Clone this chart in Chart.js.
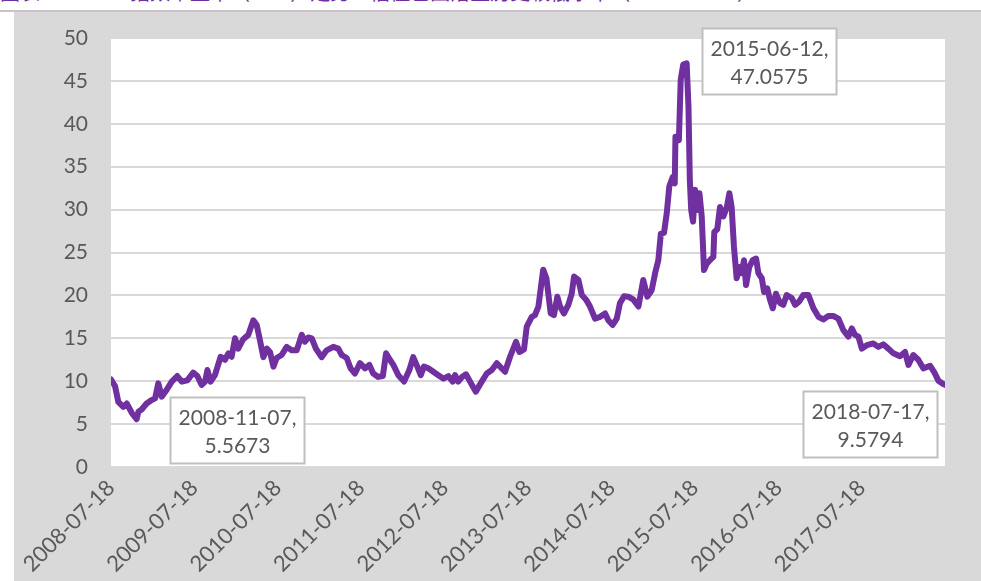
<!DOCTYPE html>
<html>
<head>
<meta charset="utf-8">
<script src="https://cdn.jsdelivr.net/npm/chart.js@4/dist/chart.umd.min.js"></script>
<style>
body { margin: 0; background: #fff; width: 981px; height: 581px; overflow: hidden; position: relative; }
#title { position: absolute; left: 0; top: -18px; line-height: 20px; font-size: 20px; color: #7030a0; white-space: nowrap; font-family: "Noto Sans CJK SC", sans-serif; }
#rule { position: absolute; left: 0; top: 10px; width: 981px; height: 2px; background: #c9c2c9; }
#wrap { position: absolute; left: 14px; top: 12px; width: 967px; height: 569px; background: #d9d9d9; }
</style>
</head>
<body>
<div id="title">图表：　　　　指数市盈率（TTM）走势：估值已回落至历史较低水平（2008—2018）</div>
<div id="rule"></div>
<div id="wrap"><canvas id="canvas" width="967" height="569"></canvas></div>
<script>
const canvas = document.getElementById('canvas');

// days since 2008-07-18 and the value
const dayOffset = [
    0, 18, 32, 54, 69, 91, 112, 120, 134, 156, 178, 193, 207, 222, 244, 266, 290, 310, 334, 360,
    378, 397, 412, 422, 436, 455, 480, 499, 514, 528, 543, 557, 579, 601, 623, 638, 652, 667, 682, 696,
    711, 725, 747, 769, 791, 813, 835, 849, 864, 879, 897, 922, 944, 973, 995, 1010, 1032, 1049, 1068, 1090,
    1112, 1131, 1148, 1170, 1190, 1204, 1221, 1236, 1258, 1283, 1306, 1323, 1341, 1356, 1370, 1389, 1411, 1433, 1455, 1477,
    1496, 1506, 1520, 1535, 1554, 1572, 1597, 1615, 1645, 1667, 1689, 1703, 1725, 1747, 1773, 1788, 1808, 1820, 1842, 1856,
    1871, 1892, 1906, 1925, 1939, 1954, 1966, 1983, 2002, 2017, 2027, 2046, 2061, 2080, 2097, 2119, 2141, 2163, 2177, 2196,
    2214, 2228, 2246, 2265, 2287, 2309, 2330, 2348, 2367, 2382, 2396, 2407, 2421, 2433, 2444, 2459, 2468, 2471, 2486, 2494,
    2505, 2520, 2528, 2534, 2540, 2548, 2557, 2567, 2576, 2586, 2596, 2608, 2622, 2637, 2641, 2654, 2666, 2681, 2696, 2707,
    2717, 2727, 2739, 2751, 2761, 2771, 2780, 2794, 2809, 2824, 2834, 2849, 2859, 2873, 2885, 2897, 2911, 2929, 2943, 2958,
    2980, 2995, 3013, 3031, 3053, 3075, 3097, 3118, 3140, 3162, 3184, 3206, 3228, 3243, 3257, 3272, 3287, 3309, 3337, 3359,
    3381, 3403, 3425, 3454, 3476, 3491, 3512, 3534, 3556, 3586, 3603, 3622, 3643, 3651
];
const peValues = [
    10.2, 9.4, 7.6, 7.0, 7.4, 6.3, 5.5673, 6.45, 6.7, 7.4, 7.8, 8.0, 9.75, 8.2, 9.0, 9.95, 10.6, 9.95, 10.1, 11.0,
    10.6, 9.56, 9.95, 11.3, 9.95, 10.7, 12.85, 12.5, 13.25, 12.85, 15.0, 13.8, 14.9, 15.4, 17.1, 16.55, 14.8, 12.8, 13.8, 13.4,
    11.7, 12.7, 13.05, 14.0, 13.6, 13.6, 15.4, 14.6, 15.1, 15.0, 13.8, 12.8, 13.6, 14.0, 13.8, 13.05, 12.7, 11.5, 10.9, 12.1,
    11.5, 11.9, 10.9, 10.5, 10.6, 13.25, 12.5, 11.9, 10.7, 9.95, 11.3, 12.8, 11.7, 10.7, 11.7, 11.5, 11.1, 10.7, 10.3, 10.6,
    9.95, 10.7, 9.95, 10.45, 10.8, 9.95, 8.78, 9.6, 10.9, 11.3, 12.1, 11.7, 11.1, 12.85, 14.6, 13.4, 13.7, 16.35, 17.5, 17.7,
    18.7, 23.0, 22.0, 17.9, 17.7, 19.85, 18.7, 17.9, 18.9, 20.2, 22.2, 21.8, 20.05, 19.5, 18.7, 17.3, 17.5, 17.9, 17.1, 16.55,
    17.3, 19.1, 19.9, 19.85, 19.5, 18.7, 21.8, 19.85, 20.6, 22.6, 24.1, 27.2, 27.3, 29.6, 32.7, 33.8, 33.05, 38.5, 38.1, 45.1,
    46.9, 47.0575, 42.0, 33.4, 29.95, 28.6, 32.3, 29.95, 31.9, 29.2, 22.95, 23.7, 24.1, 24.5, 27.4, 27.7, 30.3, 29.2, 30.3, 31.9,
    30.3, 25.7, 22.0, 23.3, 22.6, 24.1, 21.2, 23.3, 24.1, 24.3, 22.6, 22.0, 20.4, 20.8, 19.5, 18.5, 20.2, 19.1, 18.9, 20.05,
    19.7, 18.9, 19.3, 20.05, 20.05, 18.5, 17.5, 17.2, 17.6, 17.6, 17.3, 15.95, 15.2, 16.15, 15.4, 15.2, 13.8, 14.2, 14.4, 14.0,
    14.3, 13.8, 13.25, 12.9, 13.4, 11.9, 13.05, 12.5, 11.5, 11.8, 11.1, 10.06, 9.67, 9.5794
];

const tickDays = [0, 365, 730, 1095, 1461, 1826, 2191, 2556, 2922, 3287];
const tickLabels = ['2008-07-18', '2009-07-18', '2010-07-18', '2011-07-18', '2012-07-18',
    '2013-07-18', '2014-07-18', '2015-07-18', '2016-07-18', '2017-07-18'];

// labelled points
const calloutDates = ['2008-11-07', '2015-06-12', '2018-07-17'];
const calloutDays = [112, 2520, 3651];
const calloutValues = [5.5673, 47.0575, 9.5794];
const calloutOffsets = [[33, -22], [15, -35], [-142, 6]]; // box top-left relative to the point

const textColor = '#595959';
const fontFamily = 'Lato, "Open Sans", sans-serif';

const plotBackground = {
    id: 'plotBackground',
    beforeDraw(chart) {
        const { ctx, chartArea: a } = chart;
        ctx.save();
        ctx.fillStyle = '#ffffff';
        ctx.fillRect(a.left, a.top, a.right - a.left, a.bottom - a.top);
        ctx.restore();
    }
};

const callouts = {
    id: 'callouts',
    afterDatasetsDraw(chart) {
        const { ctx, scales } = chart;
        const w = 134, h = 66;
        ctx.save();
        calloutDays.forEach((d, i) => {
            const px = scales.x.getPixelForValue(d);
            const py = scales.y.getPixelForValue(calloutValues[i]);
            const bx = Math.round(px + calloutOffsets[i][0]) + 0.5;
            const by = Math.round(py + calloutOffsets[i][1]) + 0.5;
            ctx.fillStyle = '#ffffff';
            ctx.fillRect(bx, by, w, h);
            ctx.strokeStyle = '#bfbfbf';
            ctx.lineWidth = 2;
            ctx.strokeRect(bx, by, w, h);
            ctx.fillStyle = textColor;
            ctx.font = '21px ' + fontFamily;
            ctx.textAlign = 'center';
            ctx.textBaseline = 'middle';
            ctx.fillText(calloutDates[i] + ',', bx + w / 2, by + 21);
            ctx.fillText(String(calloutValues[i]), bx + w / 2, by + 49);
        });
        ctx.restore();
    }
};

new Chart(canvas, {
    type: 'line',
    data: {
        datasets: [{
            data: dayOffset.map((d, i) => ({ x: d, y: peValues[i] })),
            borderColor: '#7030a0',
            borderWidth: 6,
            pointRadius: 0,
            tension: 0,
            borderJoinStyle: 'round',
            borderCapStyle: 'round'
        }]
    },
    options: {
        responsive: false,
        animation: false,
        layout: { padding: { top: 26, right: 36, left: 0, bottom: 0 } },
        plugins: { legend: { display: false }, tooltip: { enabled: false } },
        scales: {
            x: {
                type: 'linear',
                min: 0,
                max: 3651,
                grid: { display: false },
                border: { display: false },
                afterBuildTicks: s => { s.ticks = tickDays.map(v => ({ value: v })); },
                afterFit: s => { s.height = 114; },
                ticks: {
                    autoSkip: false,
                    minRotation: 45,
                    maxRotation: 45,
                    padding: 0,
                    color: textColor,
                    font: { family: fontFamily, size: 22 },
                    callback: v => tickLabels[tickDays.indexOf(v)]
                }
            },
            y: {
                min: 0,
                max: 50,
                grid: { color: '#d9d9d9', lineWidth: 2, drawTicks: true, tickLength: 23, tickColor: 'rgba(0,0,0,0)' },
                border: { display: false },
                afterFit: s => { s.width = 97; },
                ticks: {
                    stepSize: 5,
                    padding: 0,
                    color: textColor,
                    font: { family: fontFamily, size: 21 }
                }
            }
        }
    },
    plugins: [plotBackground, callouts]
});
</script>
</body>
</html>
